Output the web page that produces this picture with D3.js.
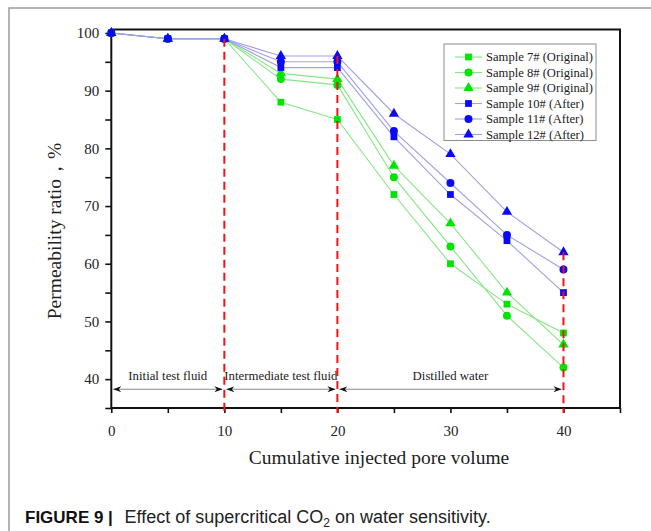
<!DOCTYPE html>
<html><head><meta charset="utf-8">
<script src="https://cdn.jsdelivr.net/npm/d3@7"></script>
<style>body{margin:0;background:#fff}svg{display:block}</style>
</head><body><svg id="c" width="651" height="531"></svg>
<script>
const xValues = [0, 5, 10, 15, 20, 25, 30, 35, 40];
const sample7  = [100, 99, 99, 88, 85, 72, 60, 53, 48];
const sample8  = [100, 99, 99, 92, 91, 75, 63, 51, 42];
const sample9  = [100, 99, 99, 93, 92, 77, 67, 55, 46];
const sample10 = [100, 99, 99, 94, 94, 82, 72, 64, 55];
const sample11 = [100, 99, 99, 95, 95, 83, 74, 65, 59];
const sample12 = [100, 99, 99, 96, 96, 86, 79, 69, 62];
const seriesNames = ["Sample 7# (Original)", "Sample 8# (Original)", "Sample 9# (Original)",
                     "Sample 10# (After)", "Sample 11# (After)", "Sample 12# (After)"];
const xTickValues = [0, 5, 10, 15, 20, 25, 30, 35, 40, 45];
const yTickValues = [35, 40, 45, 50, 55, 60, 65, 70, 75, 80, 85, 90, 95, 100];
const phaseBounds = [10, 20, 40];
const phases = [
  {label: "Initial test fluid", from: 0, to: 10, center: 5},
  {label: "Intermediate test fluid", from: 10, to: 20, center: 15},
  {label: "Distilled water", from: 20, to: 40, center: 30}
];
const xLabel = "Cumulative injected pore volume";
const yLabel = "Permeability ratio，%";

const seriesData = [sample7, sample8, sample9, sample10, sample11, sample12];
const shapes = [d3.symbolSquare, d3.symbolCircle, d3.symbolTriangle, d3.symbolSquare, d3.symbolCircle, d3.symbolTriangle];
const symSize = [46, 50, 46, 46, 50, 46];
const markerColor = ["#00e400","#00e400","#00e400","#0a0af5","#0a0af5","#0a0af5"];
const lineColor = ["#86e686","#86e686","#86e686","#a0a0e4","#a0a0e4","#a0a0e4"];

const svg = d3.select("#c");
const L = 111.3, R = 620, T = 29.5, B = 408;
const x = d3.scaleLinear().domain([0, 45]).range([L, R]);
const y = d3.scaleLinear().domain([35, 100.6]).range([B, T]);
const serif = "'Liberation Serif','Times New Roman',serif";

// outer figure border
svg.append("rect").attr("x", 9).attr("y", 8).attr("width", 700).attr("height", 600)
  .attr("fill", "none").attr("stroke", "#9a9a9a").attr("stroke-width", 1.5);

// axes
const xAxis = svg.append("g").attr("transform", `translate(0,${B})`)
  .call(d3.axisBottom(x).tickValues(xTickValues).tickSize(5).tickPadding(12)
    .tickFormat(d => (d % 10 === 0 && d <= 40) ? d : ""));
const yAxis = svg.append("g").attr("transform", `translate(${L},0)`)
  .call(d3.axisLeft(y).tickValues(yTickValues).tickSize(6).tickPadding(6)
    .tickFormat(d => (d % 10 === 0 && d >= 40) ? d : ""));
[xAxis, yAxis].forEach(g => {
  g.select(".domain").remove();
  g.selectAll(".tick line").attr("stroke", "#111").attr("stroke-width", 1.6);
  g.selectAll(".tick text").attr("font-family", serif).attr("font-size", 15).attr("fill", "#222");
});

// frame
svg.append("rect").attr("x", L).attr("y", T).attr("width", R - L).attr("height", B - T)
  .attr("fill", "none").attr("stroke", "#111").attr("stroke-width", 2);

// phase arrows
const defs = svg.append("defs");
defs.append("marker").attr("id", "ah").attr("viewBox", "0 0 8 6").attr("refX", 8).attr("refY", 3)
  .attr("markerWidth", 8).attr("markerHeight", 6).attr("markerUnits", "userSpaceOnUse").attr("orient", "auto-start-reverse")
  .append("path").attr("d", "M0,0 L8,3 L0,6 L2.5,3 Z").attr("fill", "#111");
const arrowY = y(38.25);
phases.forEach(p => {
  svg.append("line").attr("x1", x(p.from) + 2).attr("x2", x(p.to) - 2)
    .attr("y1", arrowY).attr("y2", arrowY).attr("stroke", "#8a8a8a").attr("stroke-width", 1)
    .attr("marker-start", "url(#ah)").attr("marker-end", "url(#ah)");
  svg.append("text").attr("x", x(p.center)).attr("y", y(39.85)).attr("text-anchor", "middle")
    .attr("font-family", serif).attr("font-size", 12.8).attr("fill", "#222").text(p.label);
});

// series
const line = d3.line().x((d, i) => x(xValues[i])).y(d => y(d));
seriesData.forEach((s, k) => {
  svg.append("path").datum(s).attr("d", line).attr("fill", "none")
    .attr("stroke", lineColor[k]).attr("stroke-width", 1.1);
});
seriesData.forEach((s, k) => {
  svg.append("g").selectAll("path").data(s).join("path")
    .attr("transform", (d, i) => `translate(${x(xValues[i])},${y(d)})`)
    .attr("d", d3.symbol().type(shapes[k]).size(symSize[k]))
    .attr("fill", markerColor[k]);
});

// red dashed phase boundaries
phaseBounds.forEach(b => {
  const idx = xValues.indexOf(b);
  const top = d3.max(seriesData, s => s[idx]);
  svg.append("line").attr("x1", x(b)).attr("x2", x(b)).attr("y1", y(top)).attr("y2", B + 5)
    .attr("stroke", "#f01414").attr("stroke-width", 2).attr("stroke-dasharray", "8,5");
});

// legend
const lg = svg.append("g");
lg.append("rect").attr("x", 444).attr("y", 44).attr("width", 152).attr("height", 96.5)
  .attr("fill", "#fff").attr("stroke", "#8c8c8c").attr("stroke-width", 1);
seriesNames.forEach((n, k) => {
  const ly = 57 + k * 15.5;
  lg.append("line").attr("x1", 455).attr("x2", 482).attr("y1", ly).attr("y2", ly)
    .attr("stroke", lineColor[k]).attr("stroke-width", 1.1);
  lg.append("path").attr("transform", `translate(468.5,${ly})`)
    .attr("d", d3.symbol().type(shapes[k]).size(symSize[k])).attr("fill", markerColor[k]);
  lg.append("text").attr("x", 486).attr("y", ly + 4.3).attr("font-family", serif)
    .attr("font-size", 12.6).attr("fill", "#222").text(n);
});

// axis titles
svg.append("text").attr("x", 379).attr("y", 464).attr("text-anchor", "middle")
  .attr("font-family", serif).attr("font-size", 19.5).attr("fill", "#222").text(xLabel);
svg.append("text").attr("transform", "translate(61,231) rotate(-90)").attr("text-anchor", "middle")
  .attr("font-family", serif).attr("font-size", 19.5).attr("fill", "#222").text(yLabel);

// caption
const sans = "'Liberation Sans',Arial,sans-serif";
svg.append("text").attr("x", 25).attr("y", 523).attr("font-family", sans).attr("font-weight", "bold")
  .attr("font-size", 17).attr("fill", "#111").text("FIGURE 9 |");
const cap = svg.append("text").attr("x", 124.5).attr("y", 523).attr("font-family", sans)
  .attr("font-size", 18).attr("fill", "#222");
cap.append("tspan").text("Effect of supercritical CO");
cap.append("tspan").attr("font-size", 12).attr("dy", 4).text("2");
cap.append("tspan").attr("dy", -4).text(" on water sensitivity.");
</script></body></html>
